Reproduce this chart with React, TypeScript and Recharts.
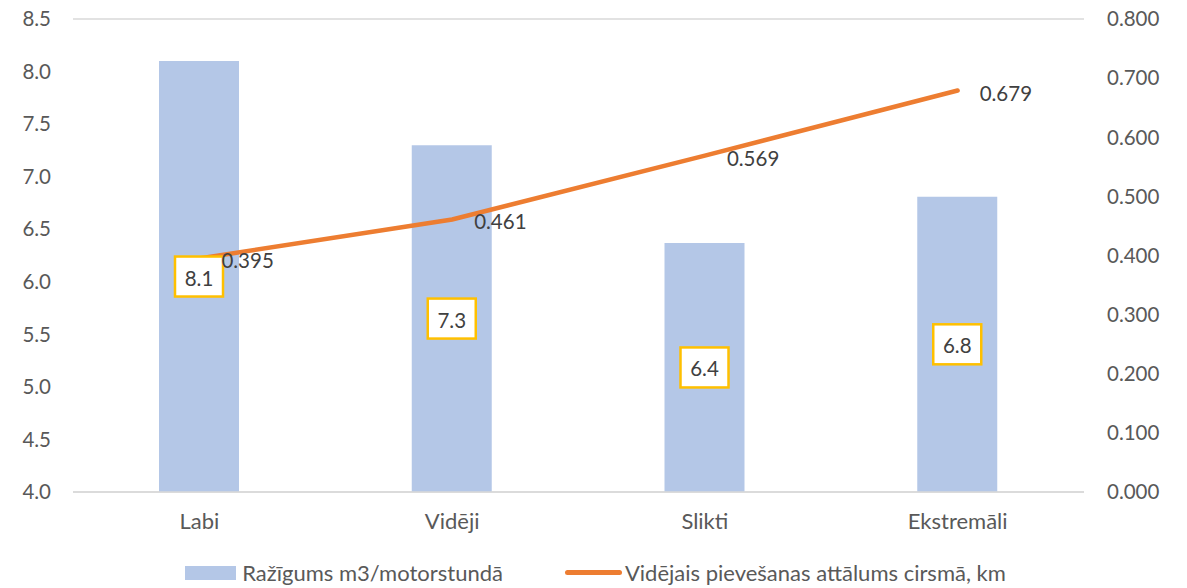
import React from 'react';
import {
  ComposedChart,
  Bar,
  Line,
  XAxis,
  YAxis,
  CartesianGrid,
  Legend,
  LabelList,
} from 'recharts';

const categories = ['Labi', 'Vidēji', 'Slikti', 'Ekstremāli'];
const productivity = [8.1, 7.3, 6.37, 6.81];
const distance = [0.395, 0.461, 0.569, 0.679];
const leftTicks = [4.0, 4.5, 5.0, 5.5, 6.0, 6.5, 7.0, 7.5, 8.0, 8.5];
const rightTicks = [0, 0.1, 0.2, 0.3, 0.4, 0.5, 0.6, 0.7, 0.8];

const barName = 'Ražīgums m3/motorstundā';
const lineName = 'Vidējais pievešanas attālums cirsmā, km';

const data = categories.map((c, i) => ({
  name: c,
  prod: productivity[i],
  dist: distance[i],
}));

const FONT = 'Lato, "Open Sans", sans-serif';
const TEXT = '#595959';
const BAR = '#B4C7E7';
const LINE = '#ED7D31';
const GRID = '#D9D9D9';

const BarLabel = (props: any) => {
  const { x, y, width, height, value } = props;
  const cx = x + width / 2;
  const cy = y + height / 2;
  return (
    <g>
      <rect x={cx - 24} y={cy - 20} width={48} height={40} fill="#fff" stroke="#FFC000" strokeWidth={2.5} />
      <text x={cx} y={cy + 1} textAnchor="middle" dominantBaseline="central" fontSize={20.5} fill="#404040" fontFamily={FONT}>
        {Number(value).toFixed(1)}
      </text>
    </g>
  );
};

const LineLabel = (props: any) => {
  const { x, y, value } = props;
  return (
    <text x={x + 22} y={y + 2} dominantBaseline="central" fontSize={20.5} fill="#404040" fontFamily={FONT}>
      {Number(value).toFixed(3)}
    </text>
  );
};

const LegendContent = () => (
  <div style={{ display: 'flex', justifyContent: 'center', alignItems: 'center', fontFamily: FONT, fontSize: 22, color: TEXT, paddingTop: 17, marginLeft: 4 }}>
    <div style={{ display: 'flex', alignItems: 'center' }}>
      <span style={{ display: 'inline-block', width: 51, height: 14, background: BAR, marginRight: 6 }} />
      <span>{barName}</span>
    </div>
    <div style={{ display: 'flex', alignItems: 'center', marginLeft: 62 }}>
      <span style={{ display: 'inline-block', width: 57, height: 5, borderRadius: 3, background: LINE, marginRight: 3 }} />
      <span>{lineName}</span>
    </div>
  </div>
);

export default function App() {
  return (
    <div style={{ position: 'absolute', left: 0, top: 0, width: 1187, height: 588, background: '#fff' }}>
      <ComposedChart width={1187} height={588} data={data} margin={{ top: 19, right: 0, bottom: 0, left: 0 }}>
        <CartesianGrid vertical={false} stroke={GRID} strokeWidth={1.5} />
        <XAxis
          dataKey="name"
          height={50}
          tickSize={0}
          tickMargin={21}
          tickLine={false}
          axisLine={{ stroke: GRID, strokeWidth: 1.5 }}
          tick={{ fontSize: 22, fill: TEXT, fontFamily: FONT }}
        />
        <YAxis
          yAxisId="left"
          width={73}
          domain={[4, 8.5]}
          ticks={leftTicks}
          interval={0}
          tickSize={0}
          tickMargin={22}
          tickLine={false}
          axisLine={false}
          tickFormatter={(v: number) => v.toFixed(1)}
          tick={{ fontSize: 20.5, fill: TEXT, fontFamily: FONT }}
        />
        <YAxis
          yAxisId="right"
          orientation="right"
          width={103}
          domain={[0, 0.8]}
          ticks={rightTicks}
          interval={0}
          tickSize={0}
          tickMargin={23}
          tickLine={false}
          axisLine={false}
          tickFormatter={(v: number) => v.toFixed(3)}
          tick={{ fontSize: 20.5, fill: TEXT, fontFamily: FONT, textAnchor: 'start' }}
        />
        <Legend verticalAlign="bottom" height={46} content={<LegendContent />} />
        <Bar yAxisId="left" dataKey="prod" name={barName} fill={BAR} barSize={80} isAnimationActive={false}>
          <LabelList dataKey="prod" content={<BarLabel />} />
        </Bar>
        <Line
          yAxisId="right"
          type="linear"
          dataKey="dist"
          name={lineName}
          stroke={LINE}
          strokeWidth={4.5}
          strokeLinecap="round"
          dot={false}
          activeDot={false}
          isAnimationActive={false}
        >
          <LabelList dataKey="dist" content={<LineLabel />} />
        </Line>
      </ComposedChart>
    </div>
  );
}
